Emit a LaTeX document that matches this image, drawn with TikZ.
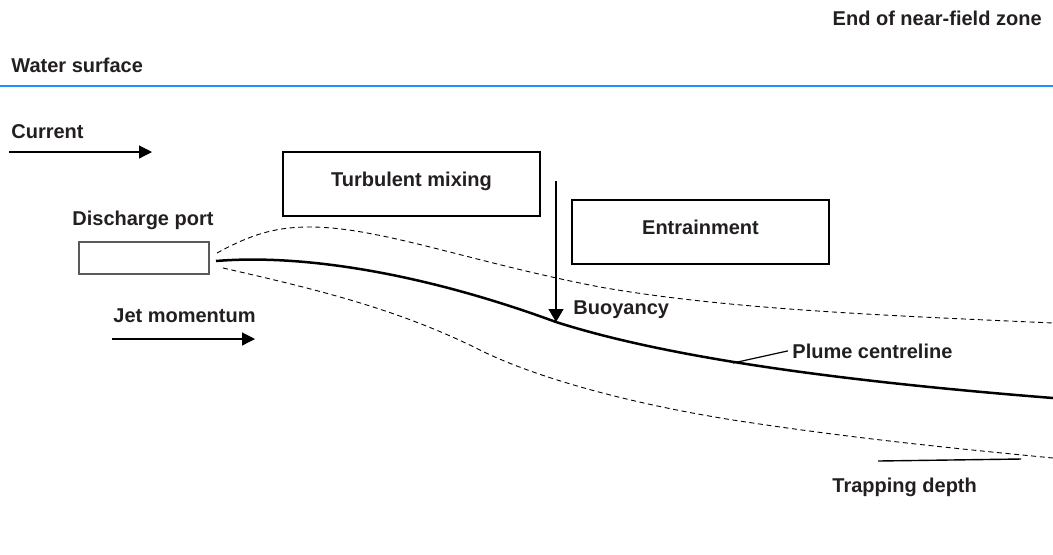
\documentclass[tikz,border=0pt]{standalone}
\usepackage{fontspec}
\setmainfont{Liberation Sans}
\usetikzlibrary{arrows.meta}
\definecolor{surfaceblue}{RGB}{30,144,255}
\definecolor{inkgray}{RGB}{35,31,32}
\definecolor{portgray}{RGB}{90,90,90}
\tikzset{
  lbl/.style={inner sep=0pt, font=\bfseries, text=inkgray},
  procbox/.style={draw, line width=0.8pt, minimum width=128.5pt, minimum height=32pt,
    inner sep=0pt, font=\bfseries, text=inkgray, text height=7.5pt, text depth=5pt},
  flowarrow/.style={line width=0.6pt, -{Triangle[length=6.5pt,width=6.5pt]}},
  plumeedge/.style={dash pattern=on 2.5pt off 1.8pt, line width=0.45pt}
}
\begin{document}
\begin{tikzpicture}[x=0.5pt, y=-0.5pt]
  \useasboundingbox (0,0) rectangle (1053,554);
  \node [lbl, anchor=base east] (zone) at (1042,25) {End of near-field zone};
  \node [lbl, anchor=base west] (surface) at (11,72) {Water surface};
  \coordinate (sl) at (0,86);
  \coordinate (sr) at (1053,86);
  \draw [surfaceblue, line width=1.2pt] (sl) -- (sr);
  \node [lbl, anchor=base west] (current) at (11,138) {Current};
  \coordinate (cur0) at (9,152);
  \coordinate (cur1) at (152,152);
  \draw [flowarrow] (cur0) -- (cur1);
  \node [procbox] (mixing) at (411.5,184) {Turbulent mixing};
  \node [procbox] (entrain) at (700.5,232) {Entrainment};
  \node [lbl, anchor=base west] (portlbl) at (72,225) {Discharge port};
  \node [draw=portgray, line width=0.6pt, minimum width=65pt, minimum height=16pt, inner sep=0pt] (port) at (144,258) {};
  \node [lbl, anchor=base west] (jetlbl) at (113,322) {Jet momentum};
  \coordinate (jet0) at (112,339);
  \coordinate (jet1) at (255,339);
  \draw [flowarrow] (jet0) -- (jet1);
  % plume centreline and edges
  \coordinate (c0) at (216,261);
  \coordinate (buoy) at (556,322);
  \coordinate (cend) at (1053,398);
  \draw [line width=1.25pt] (c0) .. controls (300,254) and (420,272) .. (buoy)
    .. controls (650,352) and (800,378) .. (cend);
  \draw [plumeedge] (217,253) .. controls (255,232) and (280,227) .. (310,227)
    .. controls (380,227) and (470,262) .. (600,287)
    .. controls (730,310) and (900,316) .. (1053,323);
  \draw [plumeedge] (223,268) .. controls (320,290) and (400,310) .. (480,350)
    .. controls (530,375) and (620,402) .. (733,420)
    .. controls (850,438) and (950,448) .. (1053,458);
  \coordinate (b0) at (556,181);
  \draw [line width=0.6pt, -{Triangle[length=6.5pt,width=7.5pt]}] (b0) -- (buoy);
  \node [lbl, anchor=base west] (buoylbl) at (573,314) {Buoyancy};
  \node [lbl, anchor=base west] (plumelbl) at (792,358) {Plume centreline};
  \coordinate (pc) at (733,363);
  \draw [line width=0.6pt] (pc) -- ([xshift=-2pt]plumelbl.west);
  \coordinate (trap0) at (878,461);
  \coordinate (trap1) at (1021,459);
  \draw [line width=0.7pt] (trap0) -- (trap1);
  \node [lbl, anchor=base west] (traplbl) at (832,492) {Trapping depth};
\end{tikzpicture}
\end{document}
